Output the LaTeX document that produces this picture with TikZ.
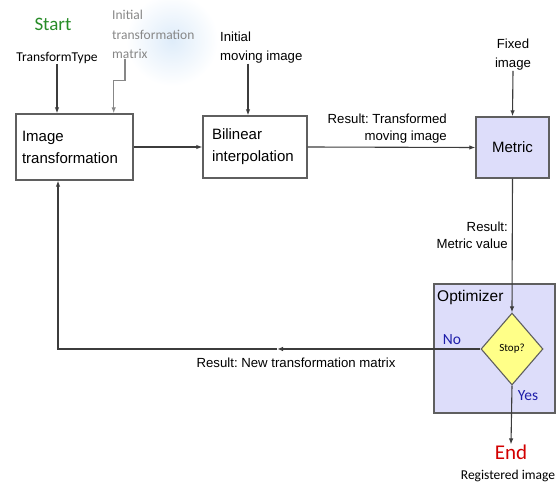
\documentclass[tikz,border=0pt]{standalone}
\usepackage{fontspec}
\setmainfont{Liberation Sans}
\newfontfamily\calib{Carlito}
\usetikzlibrary{positioning,shapes.geometric,arrows.meta}
\definecolor{boxline}{RGB}{95,95,95}
\definecolor{lineclr}{RGB}{60,60,60}
\definecolor{lav}{RGB}{221,221,250}
\definecolor{stopfill}{RGB}{255,255,136}
\definecolor{startgreen}{RGB}{40,140,40}
\definecolor{endred}{RGB}{210,0,0}
\definecolor{ansblue}{RGB}{30,30,170}
\definecolor{matgray}{RGB}{135,135,135}
\definecolor{glow}{RGB}{222,236,250}
\frenchspacing

\tikzset{
  box/.style={draw=boxline, line width=1.4pt, align=left, inner xsep=6pt,
    font=\fontsize{15}{22}\selectfont},
  lbl/.style={font=\fontsize{13.2}{17}\selectfont, inner sep=0pt},
  cal/.style={font=\calib\fontsize{13.5}{19.5}\selectfont, inner sep=0pt},
  flow/.style={draw=lineclr, line width=1.1pt, -{Latex[length=6pt,width=4.5pt]}},
}

\begin{document}
\begin{tikzpicture}[x=1pt, y=-1pt]
  \useasboundingbox (0,0) rectangle (560,484);

  % Glow behind the initial matrix text
  \shade[inner color=glow, outer color=white] (172,40) circle (46);

  % Inputs at the top
  \node[cal, font=\calib\fontsize{19}{19}\selectfont, text=startgreen] (start) at (53,24) {Start};
  \node[cal] (ttype) at (57,58) {TransformType};
  \node[cal, text=matgray, align=left, anchor=north west] (initmat) at (112,10) {Initial\\transformation\\matrix};
  \node[lbl, font=\fontsize{13.2}{19}\selectfont, align=left, anchor=north west] (initmov) at (220,32) {Initial\\moving image};
  \node[lbl, font=\fontsize{13.2}{19}\selectfont, align=center] (fixed) at (513,55) {Fixed\\image};

  % Processing boxes
  \node[box, text width=105pt, minimum height=66pt] (imgtr) at (74.5,147) {Image\\transformation};
  \node[box, text width=86pt, inner xsep=9pt, minimum height=62pt] (bilin) at (255,147) {Bilinear\\interpolation};
  \node[box, fill=lav, align=center, minimum width=73pt, minimum height=61pt] (metric) at (512.5,147.5) {Metric};

  % Optimizer with the stop test
  \node[draw=boxline, line width=1.8pt, fill=lav, minimum width=121pt, minimum height=129pt] (opt) at (494.5,348.5) {};
  \node[font=\fontsize{15.5}{15.5}\selectfont, inner sep=0pt, anchor=north west] (optlbl) at (437,290) {Optimizer};
  \node[diamond, draw=boxline, line width=1.1pt, fill=stopfill, aspect=0.86, minimum width=62pt,
    minimum height=72pt, inner sep=0pt, font=\calib\fontsize{11}{11}\selectfont] (stop) at (512,349) {Stop?};
  \node[cal, font=\calib\fontsize{15.5}{15.5}\selectfont, text=ansblue] (no) at (452,340) {No};
  \node[cal, font=\calib\fontsize{15.5}{15.5}\selectfont, text=ansblue] (yes) at (528,396) {Yes};

  % Output
  \node[cal, font=\calib\fontsize{21}{21}\selectfont, text=endred] (end) at (511,452) {End};
  \node[cal] (reg) at (508,476) {Registered image};

  % Result labels
  \node[lbl, align=right, anchor=east] (restr) at (447,129) {Result: Transformed\\moving image};
  \node[lbl, align=right, anchor=east] (resmet) at (508,235) {Result:\\Metric value};
  \node[lbl] (resnew) at (296,363) {Result: New transformation matrix};

  % Connectors
  \draw[flow] (ttype.south) -- (ttype.south |- imgtr.north);
  \draw[flow, draw=matgray] (initmat.south west) ++(13,0) -- ++(0,22) -| ([xshift=-20pt]imgtr.north east);
  \draw[flow] (imgtr.east) -- (bilin.west);
  \draw[flow] (initmov.south -| 248,0) -- ([xshift=-7pt]bilin.north);
  \draw[flow] (bilin.east) -- (metric.west);
  \draw[flow] (fixed.south) -- (metric.north);
  \draw[flow] (metric.south) -- (stop.north);
  \draw[flow] (stop.south) -- (end.north);

  % Feedback to the transformation
  \coordinate (fbmid) at (277,349);
  \draw[flow] (stop.west) -- (fbmid);
  \draw[flow] (fbmid) -| ([xshift=-16.5pt]imgtr.south);
\end{tikzpicture}
\end{document}
